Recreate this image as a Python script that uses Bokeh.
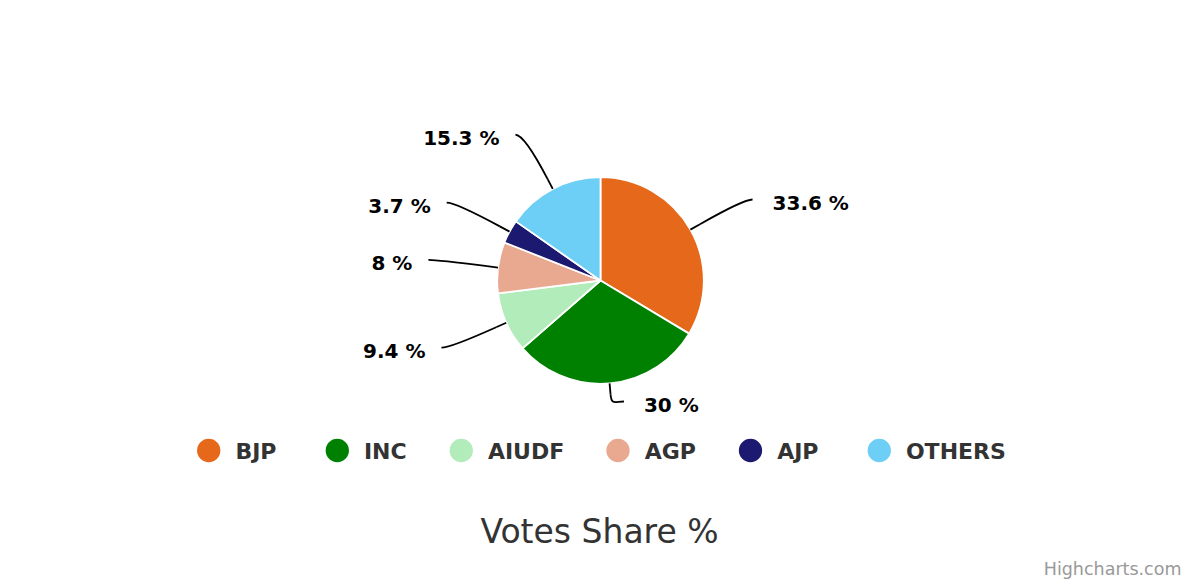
import math
from bokeh.plotting import figure
from bokeh.models import Range1d
from bokeh.embed import file_html
from bokeh.resources import INLINE
from bokeh.core.properties import value

# ---------------- data ----------------
parties = ["BJP", "INC", "AIUDF", "AGP", "AJP", "OTHERS"]
vote_share = [33.6, 30.0, 9.4, 8.0, 3.7, 15.3]
colors = ["#E6681A", "#008000", "#B2ECBA", "#E9A890", "#1B1A70", "#6DCFF6"]
title_text = "Votes Share %"
credit_text = "Highcharts.com"

# ---------------- layout (reference pixel space, y downwards) ----------------
PAGE_W, PAGE_H = 1200, 584
CX, CY = 600.0, 280.0          # pie centre
R = 103.3                      # pie radius
BREAK = 11.0                   # soft connector break distance
LABEL_R = 164.4                # radius of label positions
LABEL_TOP, LABEL_BOTTOM = 40.0, 401.0
CONN_PAD = 9.0
TEXT_PAD_RIGHT, TEXT_PAD_LEFT = 29.0, 25.0
LABEL_BASE_DY = 11.0
BASE_FIX = 0.38                # baseline correction (em)

LEG_Y = 450.0
LEG_BASE = 459.5
LEG_SYMBOL = 23.3
LEG_SYMBOL_PAD = 15.0
LEG_DIST = 43.0
LEG_FONT = 22.0
LEG_CENTER_X = 601.0

TITLE_FONT = 33.0
TITLE_BASE = 543.5
LABEL_FONT = 20.0
CREDIT_FONT = 17.5
CREDIT_RIGHT, CREDIT_BASE = 1181.0, 575.0

# approximate DejaVu Sans Bold advance widths (units per em 2048)
GLYPH_W = {"A": 1585, "B": 1563, "C": 1499, "D": 1700, "E": 1399, "F": 1311,
           "G": 1677, "H": 1714, "I": 760, "J": 1330, "N": 1714, "O": 1741,
           "P": 1505, "R": 1577, "S": 1479, "T": 1399, "U": 1665}


def yd(Y):
    """reference screen y -> data y"""
    return PAGE_H - Y


def yb(Y, size):
    """baseline position with renderer correction"""
    return yd(Y - BASE_FIX * size)


p = figure(width=PAGE_W, height=PAGE_H, output_backend="svg", toolbar_location=None,
           x_range=Range1d(0, PAGE_W), y_range=Range1d(0, PAGE_H),
           x_axis_location=None, y_axis_location=None,
           min_border=0, outline_line_color=None,
           background_fill_color="white", border_fill_color="white")
p.grid.visible = False

# ---------------- pie ----------------
total = sum(vote_share)
starts, ends, mids = [], [], []
acc = 0.0
for v in vote_share:
    f0 = acc / total
    acc += v
    f1 = acc / total
    starts.append(math.pi / 2 - 2 * math.pi * f0)
    ends.append(math.pi / 2 - 2 * math.pi * f1)
    mids.append(2 * math.pi * (f0 + f1) / 2)   # clockwise from top

p.wedge(x=CX, y=yd(CY), radius=R, start_angle=starts, end_angle=ends,
        direction="clock", fill_color=colors, line_color="white", line_width=1.8)

# ---------------- data labels with soft connectors ----------------
bx0, by0, bx1, by1, bcx0, bcy0, bcx1, bcy1 = ([] for _ in range(8))
sx0, sy0, sx1, sy1 = [], [], [], []
rt_x, rt_y, rt_t = [], [], []
lt_x, lt_y, lt_t = [], [], []
for v, th in zip(vote_share, mids):
    s, c = math.sin(th), math.cos(th)
    left = s < 0
    ex, ey = CX + R * s, CY - R * c
    bx, by = CX + (R + BREAK) * s, CY - (R + BREAK) * c
    ny = CY - LABEL_R * c
    y = min(max(ny, LABEL_TOP), LABEL_BOTTOM)
    yy = ny if y != ny else y
    dx = math.sqrt(max(LABEL_R ** 2 - (yy - CY) ** 2, 0.0))
    x = CX - dx if left else CX + dx
    start_x = x - CONN_PAD if left else x + CONN_PAD
    bx0.append(start_x); by0.append(yd(y))
    bcx0.append(x); bcy0.append(yd(y))
    bcx1.append(2 * bx - ex); bcy1.append(yd(2 * by - ey))
    bx1.append(bx); by1.append(yd(by))
    sx0.append(bx); sy0.append(yd(by)); sx1.append(ex); sy1.append(yd(ey))
    txt = f"{v:g} %"
    if left:
        lt_x.append(x - TEXT_PAD_LEFT); lt_y.append(yb(y + LABEL_BASE_DY, LABEL_FONT)); lt_t.append(txt)
    else:
        rt_x.append(x + TEXT_PAD_RIGHT); rt_y.append(yb(y + LABEL_BASE_DY, LABEL_FONT)); rt_t.append(txt)

p.bezier(x0=bx0, y0=by0, x1=bx1, y1=by1, cx0=bcx0, cy0=bcy0, cx1=bcx1, cy1=bcy1,
         line_color="black", line_width=1.8)
p.segment(x0=sx0, y0=sy0, x1=sx1, y1=sy1, line_color="black", line_width=1.8)

lab_style = dict(text_font=value("DejaVu Sans"), text_font_style="bold",
                 text_font_size=value(f"{LABEL_FONT:g}px"), text_color="black",
                 text_baseline="alphabetic")
p.text(x=rt_x, y=rt_y, text=rt_t, text_align="left", **lab_style)
p.text(x=lt_x, y=lt_y, text=lt_t, text_align="right", **lab_style)

# ---------------- legend ----------------
text_w = [sum(GLYPH_W[ch] for ch in name) * LEG_FONT / 2048 for name in parties]
item_w = [LEG_SYMBOL + LEG_SYMBOL_PAD + w for w in text_w]
total_w = sum(item_w) + LEG_DIST * (len(parties) - 1)
cur = LEG_CENTER_X - total_w / 2
leg_cx, leg_tx = [], []
for w in item_w:
    leg_cx.append(cur + LEG_SYMBOL / 2)
    leg_tx.append(cur + LEG_SYMBOL + LEG_SYMBOL_PAD)
    cur += w + LEG_DIST

p.scatter(x=leg_cx, y=[yd(LEG_Y)] * len(parties), size=LEG_SYMBOL, marker="circle",
          fill_color=colors, line_color=None)
p.text(x=leg_tx, y=[yb(LEG_BASE, LEG_FONT)] * len(parties), text=parties,
       text_font=value("DejaVu Sans"), text_font_style="bold",
       text_font_size=value(f"{LEG_FONT:g}px"), text_color="#333333",
       text_align="left", text_baseline="alphabetic")

# ---------------- title & credit ----------------
p.text(x=[PAGE_W / 2 - 1], y=[yb(TITLE_BASE, TITLE_FONT)], text=[title_text],
       text_font=value("DejaVu Sans"), text_font_size=value(f"{TITLE_FONT:g}px"),
       text_color="#333333", text_align="center", text_baseline="alphabetic")
p.text(x=[CREDIT_RIGHT], y=[yb(CREDIT_BASE, CREDIT_FONT)], text=[credit_text],
       text_font=value("DejaVu Sans"), text_font_size=value(f"{CREDIT_FONT:g}px"),
       text_color="#999999", text_align="right", text_baseline="alphabetic")

open("out.html", "w").write(file_html(p, INLINE))
